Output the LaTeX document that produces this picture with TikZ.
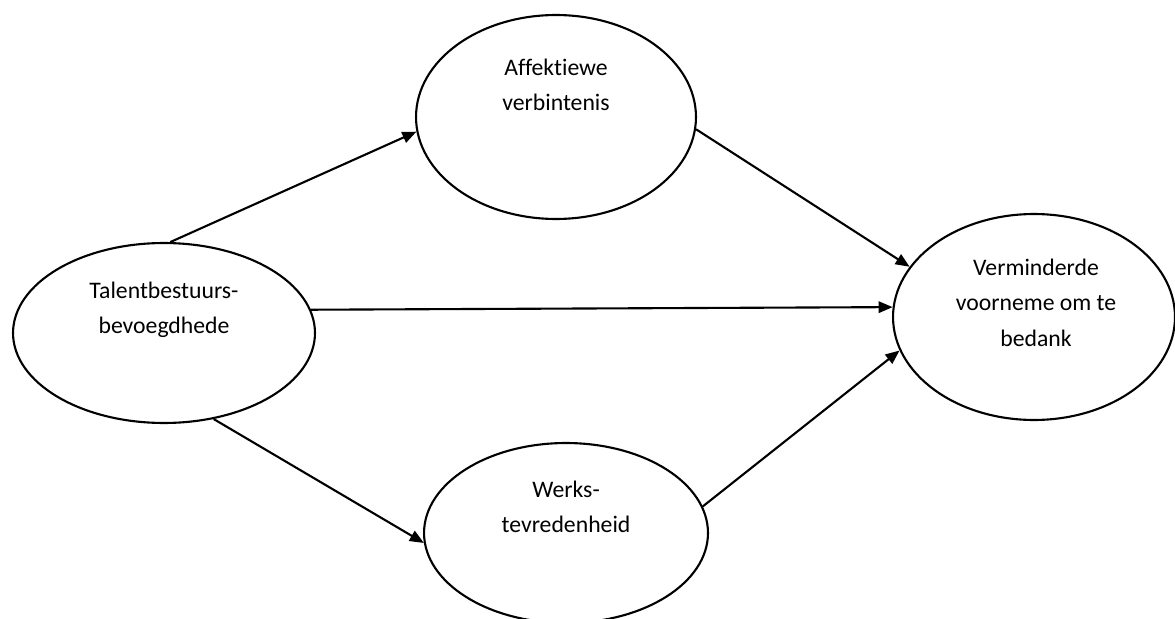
\documentclass[tikz,border=0pt]{standalone}
\usepackage{fontspec}
\setmainfont{Carlito}[Ligatures=NoCommon]
\usetikzlibrary{shapes.geometric,arrows.meta}
\begin{document}
\begin{tikzpicture}[x=0.02cm,y=-0.02cm,
  oval/.style={draw,ellipse,line width=1.2pt,inner sep=0pt},
  txt/.style={align=center,anchor=north,inner sep=0pt,font=\fontsize{13.5}{20}\selectfont},
  arr/.style={line width=1.2pt,-{Triangle[length=8pt,width=6.5pt]}}]
\useasboundingbox (0,0) rectangle (1175,618);
\node[oval,minimum width=6.04cm,minimum height=3.6cm] (talent) at (164,333) {};
\node[oval,minimum width=5.6cm,minimum height=4.08cm] (affek) at (556,117) {};
\node[oval,minimum width=5.68cm,minimum height=3.6cm] (werk) at (566,533) {};
\node[oval,minimum width=5.64cm,minimum height=4.12cm] (verm) at (1034,317) {};
\node[txt] (talent-t) at (164,282) {Talentbestuurs-\\bevoegdhede};
\node[txt] (affek-t) at (556,59) {Affektiewe\\verbintenis};
\node[txt] (werk-t) at (566,481) {Werks-\\tevredenheid};
\node[txt] (verm-t) at (1036,259) {Verminderde\\voorneme om te\\bedank};
\draw[arr] (talent.86) -- (affek.186);
\draw[arr] (talent.9) -- (verm.176);
\draw[arr] (talent.-60) -- (werk.184);
\draw[arr] (affek.-5) -- (verm.158);
\draw[arr] (werk.11) -- (verm.194);
\end{tikzpicture}
\end{document}
